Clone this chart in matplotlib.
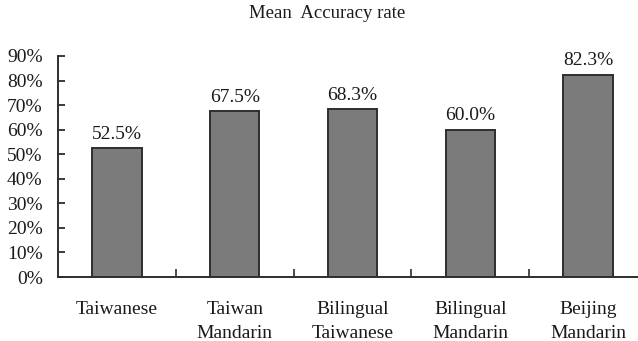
import numpy as np
import matplotlib.pyplot as plt
from matplotlib.ticker import PercentFormatter

# Mean accuracy per speaker group
groups = ['Taiwanese', 'Taiwan\nMandarin', 'Bilingual\nTaiwanese',
          'Bilingual\nMandarin', 'Beijing\nMandarin']
accuracy = [52.5, 67.5, 68.3, 60.0, 82.3]
yticks = [0, 10, 20, 30, 40, 50, 60, 70, 80, 90]

plt.rcParams['font.family'] = ['Liberation Serif', 'DejaVu Serif']

fig = plt.figure(figsize=(6.38, 3.41), dpi=100)
ax = fig.add_axes([58 / 638, 64 / 341, 589 / 638, 221 / 341])

x = np.arange(len(groups))
bars = ax.bar(x, accuracy, width=0.42, color='#7b7b7b',
              edgecolor='#2e2e2e', linewidth=1.4)

for b, v in zip(bars, accuracy):
    ax.annotate(f'{v:.1f}%', (b.get_x() + b.get_width() / 2, v),
                xytext=(0, 4), textcoords='offset points',
                ha='center', va='bottom', fontsize=14, color='#1a1a1a')

ax.set_xlim(-0.5, len(groups) - 0.5)
ax.set_ylim(0, 90)
ax.set_yticks(yticks)
ax.yaxis.set_major_formatter(PercentFormatter(decimals=0))
ax.tick_params(axis='y', direction='in', length=5, width=1.2,
               labelsize=14, pad=11, colors='#1a1a1a')

# category separators as inward ticks on the x axis
ax.set_xticks(np.arange(len(groups)) + 0.5, minor=False)
ax.set_xticklabels([])
ax.set_xticks(x, minor=True)
ax.set_xticklabels(groups, minor=True, fontsize=14, color='#1a1a1a',
                   linespacing=1.55)
ax.tick_params(axis='x', which='major', direction='in', length=6, width=1.2,
               colors='#2e2e2e')
ax.tick_params(axis='x', which='minor', length=0, pad=17)

for side in ('top', 'right'):
    ax.spines[side].set_visible(False)
for side in ('left', 'bottom'):
    ax.spines[side].set_linewidth(1.4)
    ax.spines[side].set_color('#2e2e2e')

fig.text(327 / 638, 1 - 14 / 341, 'Mean  Accuracy rate', ha='center',
         va='center', fontsize=13.5, color='#1a1a1a')

fig.savefig('out.png', dpi=100)
